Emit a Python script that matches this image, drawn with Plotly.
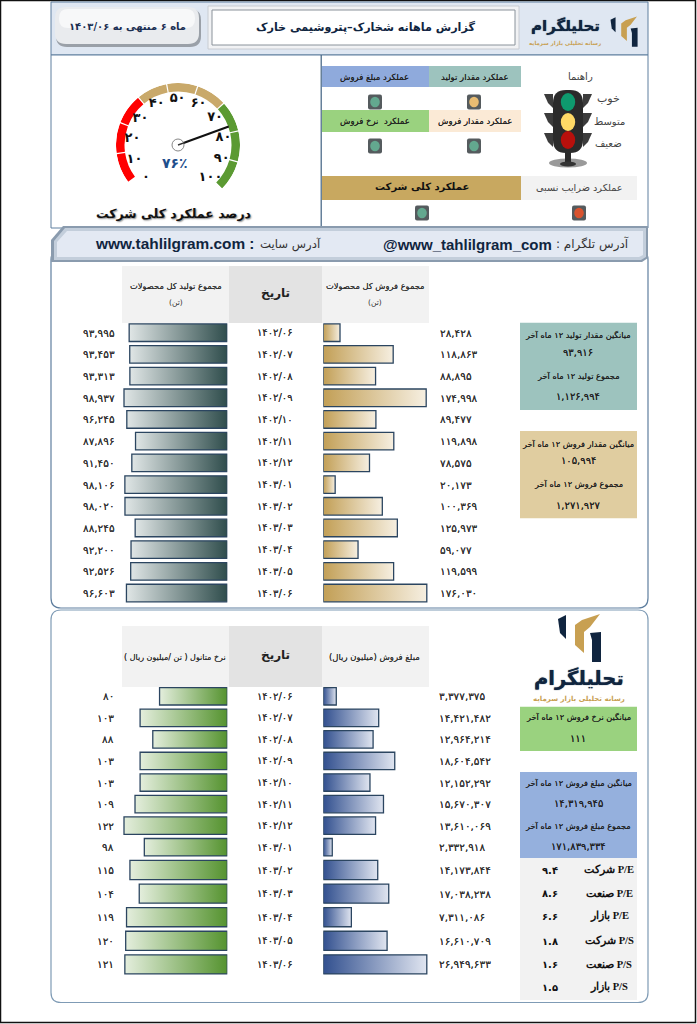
import plotly.graph_objects as go

# ---------- data ----------
dates = ["1402/06","1402/07","1402/08","1402/09","1402/10","1402/11","1402/12",
         "1403/01","1403/02","1403/03","1403/04","1403/05","1403/06"]
production = [93995,93453,93313,98937,96245,87896,91450,98106,98020,88245,92200,92526,96603]
sales_qty = [28428,118863,88895,174998,89477,119898,78575,20173,100369,125973,59077,119599,176030]
sales_amount = [3377375,14421482,12964214,18604542,12152292,15670307,13610069,2332918,
                14173844,17038238,7311086,16610709,26949633]
rate = [80,103,88,103,103,109,122,98,115,104,119,120,121]
gauge_value = 76
gauge_ticks = [0,10,20,30,40,50,60,70,80,90,100]
ratios = [("شرکت P/E","9.4"),("صنعت P/E","8.6"),("بازار P/E","6.6"),
          ("شرکت P/S","1.8"),("صنعت P/S","1.6"),("بازار P/S","1.5")]

W, H = 697, 1024
FONT = "DejaVu Sans"
NAVY = "#10253f"
GOLD = "#c8a052"
SEMI = "0 0 0.5px rgba(0,0,0,0.75)"

def fa(v):
    s = f"{v:,}" if not isinstance(v, str) else v
    return s.translate(str.maketrans("0123456789", "۰۱۲۳۴۵۶۷۸۹"))

def X(p): return p / W
def Y(p): return 1 - p / H

shapes, annos = [], []

def rect(x0, y0, x1, y1, fill, line=None, lw=1):
    shapes.append(dict(type="rect", xref="paper", yref="paper", x0=X(x0), x1=X(x1), y0=Y(y0), y1=Y(y1),
                       fillcolor=fill, line=dict(color=line or "rgba(0,0,0,0)", width=lw if line else 0), layer="below"))

def poly(pts, fill, line=None, lw=1):
    d = "M " + " L ".join(f"{X(a):.5f},{Y(b):.5f}" for a, b in pts) + " Z"
    shapes.append(dict(type="path", xref="paper", yref="paper", path=d, fillcolor=fill,
                       line=dict(color=line or "rgba(0,0,0,0)", width=lw if line else 0), layer="below"))

def ell(cx, cy, rx, ry, fill, line=None, lw=1):
    shapes.append(dict(type="circle", xref="paper", yref="paper", x0=X(cx-rx), x1=X(cx+rx), y0=Y(cy+ry), y1=Y(cy-ry),
                       fillcolor=fill, line=dict(color=line or "rgba(0,0,0,0)", width=lw if line else 0), layer="below"))

def rrect(x0, y0, x1, y1, r, fill, line=None, lw=1):
    def P(a, b): return f"{X(a):.5f},{Y(b):.5f}"
    d = (f"M {P(x0+r,y0)} L {P(x1-r,y0)} Q {P(x1,y0)} {P(x1,y0+r)} L {P(x1,y1-r)} Q {P(x1,y1)} {P(x1-r,y1)} "
         f"L {P(x0+r,y1)} Q {P(x0,y1)} {P(x0,y1-r)} L {P(x0,y0+r)} Q {P(x0,y0)} {P(x0+r,y0)} Z")
    shapes.append(dict(type="path", xref="paper", yref="paper", path=d, fillcolor=fill,
                       line=dict(color=line or "rgba(0,0,0,0)", width=lw if line else 0), layer="below"))

def txt(x, y, s, size=9, color="#222", bold=False, anchor="center", font=FONT, yref=None, shadow=None):
    f = dict(family=font, size=size, color=color, weight=700 if bold else 400)
    if shadow:
        f["shadow"] = shadow
    annos.append(dict(x=X(x), y=(y if yref else Y(y)), xref="paper", yref=yref or "paper", text=s,
                      showarrow=False, xanchor=anchor, yanchor="middle", align="center", font=f))

def logo(ox, oy, s):
    def m(pts): return [(ox + a*s, oy + b*s) for a, b in pts]
    poly(m([(0,5),(8,1),(8,25),(2,19)]), NAVY)
    poly(m([(42,0),(24,6),(17,11),(17,31),(26,39),(26,18),(32,13)]), GOLD)
    poly(m([(32,19),(43,18),(43,48),(34,48),(34,26)]), NAVY)

def light(cx, cy, inner):
    rrect(cx-7, cy-7.5, cx+7, cy+7.5, 2, "#555b5e")
    ell(cx, cy, 4.8, 5.2, inner)

# ---------- page frame and panels ----------
rect(0.5, 0.5, 695.5, 1022.5, "white", "#111", 1.5)
rect(51, 2, 648, 55, "#dfe7f2", "#5f7f9f", 1)
rect(51, 55, 648, 228, "white", "#5f7f9f", 1)
rect(320.6, 55, 321.8, 227, "#3f6080")
rrect(56, 9, 201, 47, 11, "#9aa0a8")
rrect(55, 7, 199, 44, 11, "#e9ebee")
rrect(59, 9, 195, 28, 9, "#f7f8f9")
rect(208, 6, 519, 49, "#f1f2f4", "#c8ccd2", 1)
rect(212, 10, 515, 45, "white", "#8a929a", 1)
logo(610.5, 16.5, 0.63)

# panels, then the address band over the first one
rrect(51, 250, 648, 608, 10, "white", "#5f7f9f", 1.2)
rrect(51, 610, 648, 1002.5, 10, "white", "#7f9bb5", 1.2)
poly([(51,240),(63,226),(648,226),(648,258),(642,262),(51,262)], "#8a9bae")
poly([(54,241),(65,228),(646,228),(646,257),(641,260),(54,260)], "#c3cedb")
poly([(57,242),(67,231),(643,231),(643,255),(639,257),(57,257)], "#e3e9f3")

# headers of the two tables
rect(122, 266, 229, 323, "#f2f2f2")
rect(229, 266, 322, 323, "#e3e3e3")
rect(322, 266, 429, 323, "#f2f2f2")
rect(122, 626, 229, 687, "#f2f2f2")
rect(229, 626, 322, 687, "#e3e3e3")
rect(322, 626, 429, 687, "#f2f2f2")

# side boxes
rect(520, 322.7, 637, 410, "#9dc3be")
rect(520, 431, 637, 518.3, "#e0cda0")
rect(520, 706.7, 637, 751, "#9ad27f")
rect(520, 772, 637, 858, "#95b0dd")
rect(520, 858, 637, 1000, "#f2f2f2")
logo(558, 614, 1.0)

# scoreboard
rect(322, 66, 429, 87, "#8faadc")
rect(429, 66, 521, 87, "#9dc3be")
rect(322, 110, 429, 132, "#9ad27f")
rect(429, 110, 521, 132, "#fbead6")
rect(322, 176, 521, 200, "#c8a860")
rect(521, 176, 637, 200, "#f2f2f2")
light(375, 102, "#63a88f")
light(474, 102, "#e8bc72")
light(375, 146, "#63a88f")
light(474, 146, "#63a88f")
light(422, 213, "#63a88f")
light(579, 213, "#d9532f")

# traffic light
for vy in (94, 113, 133):
    poly([(544,vy),(553,vy),(553,vy+14),(548,vy+9)], "#3c3c3c")
    poly([(592,vy),(583,vy),(583,vy+14),(588,vy+9)], "#3c3c3c")
ell(568, 163, 19, 4.5, "#9a9a9a")
rect(565, 150, 571, 165, "#2a2a2a")
ell(568, 164, 8, 2.5, "#333")
rrect(553, 90, 583, 153, 13, "#2b2b2b")
ell(568, 102, 7.2, 9, "#0e9a6e")
ell(568, 122, 7.2, 9, "#ffd966")
ell(568, 140, 7.2, 9, "#b8100c")

# ---------- gauge ----------
G0, GSPAN = 226.0, 271.0
ARC_START = 3.3
def ang(v): return G0 - GSPAN * v / 100
seg_colors = ["#ff0000"]*3 + ["#c9a96a"]*3 + ["#5b9a32"]*3
seg_step = (100 - ARC_START) / 9
seg_mid = [ARC_START + (i + 0.5) * seg_step for i in range(9)]

traces = []
traces.append(go.Barpolar(r=[8.5]*9, base=[53.5]*9, theta=[ang(v) for v in seg_mid],
                          width=[GSPAN*seg_step/100 - 1.2]*9, marker=dict(color=seg_colors, line=dict(width=0)),
                          hoverinfo="skip", showlegend=False, subplot="polar"))
traces.append(go.Scatterpolar(r=[46]*len(gauge_ticks), theta=[ang(v) for v in gauge_ticks],
                              mode="text", text=[fa(str(v)) for v in gauge_ticks],
                              textfont=dict(family=FONT, size=13, color="#111", weight=700),
                              hoverinfo="skip", showlegend=False, subplot="polar", cliponaxis=False))
traces.append(go.Scatterpolar(r=[0, 54], theta=[ang(gauge_value)]*2, mode="lines",
                              line=dict(color="#111", width=2.2), hoverinfo="skip", showlegend=False, subplot="polar"))
traces.append(go.Scatterpolar(r=[0], theta=[0], mode="markers",
                              marker=dict(size=12, color="white", line=dict(color="#888", width=1)),
                              hoverinfo="skip", showlegend=False, subplot="polar"))
traces.append(go.Scatterpolar(r=[0, 7], theta=[ang(gauge_value)]*2, mode="lines",
                              line=dict(color="#333", width=1.5), hoverinfo="skip", showlegend=False, subplot="polar"))

# ---------- bars ----------
BORDER = "#2b4560"
def bars(vals, labels, xa, ya, c0, c1):
    traces.append(go.Bar(x=vals, y=labels, xaxis=xa, yaxis=ya, orientation="h", cliponaxis=False,
                         marker=dict(color=c1, line=dict(color=BORDER, width=1.3)), meta=[c0, c1],
                         hoverinfo="skip", showlegend=False))

bars(sales_qty, dates, "x", "y", "#c29f56", "#f6efe1")
bars(production, dates, "x2", "y", "#e0e6e6", "#2f4d4c")
bars(sales_amount[:8], dates[:8], "x3", "y2", "#32508f", "#e0e5f0")
bars(rate[:8], dates[:8], "x4", "y2", "#e4eedd", "#55932f")
bars(sales_amount[8:], dates[8:], "x3", "y3", "#32508f", "#e0e5f0")
bars(rate[8:], dates[8:], "x4", "y3", "#e4eedd", "#55932f")

# value and date columns
def columns(lv, rv, labels, ya, lx, rx):
    for d, a, b in zip(labels, lv, rv):
        txt(lx, d, fa(a), 10.5, "#333", False, "right", yref=ya, shadow=SEMI)
        txt(rx, d, fa(b), 10.5, "#333", False, "left", yref=ya, shadow=SEMI)
        txt(275, d, fa(d), 10, "#333", False, yref=ya, shadow=SEMI)

columns(production, sales_qty, dates, "y", 117, 438)
columns(rate[:8], sales_amount[:8], dates[:8], "y2", 116, 437)
columns(rate[8:], sales_amount[8:], dates[8:], "y3", 116, 437)

# ---------- texts ----------
BOLDER = "0 0 1px rgba(16,37,63,0.9)"
txt(127, 27, "ماه ۶ منتهی به ۱۴۰۳/۰۶", 10, "#1b2f52", True)
txt(365, 27, "گزارش ماهانه شخارک–پتروشیمی خارک", 11.2, NAVY, True)
txt(565, 26, "تحلیلگرام", 15, NAVY, True, shadow=BOLDER)
txt(565, 43, "رسانه تحلیلی بازار سرمایه", 5.5, GOLD, True)
txt(175, 163, "۷۶٪", 14, "#1f4e8c", True)
txt(173, 213, "درصد عملکرد کلی شرکت", 12.5, "#111", True, shadow="1px 1px 1.5px rgba(0,0,0,0.45)")

txt(375, 77, "عملکرد مبلغ فروش", 8.5, "#222", shadow=SEMI)
txt(475, 77, "عملکرد مقدار تولید", 8.5, "#222", shadow=SEMI)
txt(375, 121, "عملکرد  نرخ فروش", 8.5, "#222", shadow=SEMI)
txt(475, 121, "عملکرد مقدار فروش", 8.5, "#222", shadow=SEMI)
txt(422, 187, "عملکرد کلی شرکت", 10, "#111", True)
txt(579, 187, "عملکرد ضرایب نسبی", 9.7, "#444")
txt(580, 76, "راهنما", 10, "#444")
txt(608, 98, "خوب", 11, "#444")
txt(609, 121, "متوسط", 10, "#444")
txt(608, 143, "ضعیف", 10, "#444")

txt(592, 244, "آدرس تلگرام :\u200f", 12, "#333")
txt(467, 244, "@www_tahlilgram_com", 15, NAVY, True, font="Liberation Sans")
txt(175, 243, "www.tahlilgram.com :", 15.4, NAVY, True, font="Liberation Sans")
txt(290, 244, "آدرس سایت", 11.7, "#333")

txt(176, 286, "مجموع تولید کل محصولات", 8.3, "#333", shadow=SEMI)
txt(176, 302, "(تن)", 7.5, "#333")
txt(275, 293, "تاریخ", 12, "#222", True)
txt(375, 286, "مجموع فروش کل محصولات", 8.3, "#333", shadow=SEMI)
txt(375, 302, "(تن)", 7.5, "#333")
txt(175, 657, "نرخ متانول ( تن /میلیون ریال )\u200f", 8, "#333", shadow=SEMI)
txt(275, 655, "تاریخ", 12, "#222", True)
txt(375, 657, "مبلغ فروش (میلیون ریال)\u200f", 8.5, "#333", shadow=SEMI)

S = dict(shadow=SEMI)
txt(578, 335, "میانگین مقدار تولید ۱۲ ماه آخر", 8.2, "#222", **S)
txt(578, 352, fa("93,916"), 10, "#222", **S)
txt(578, 376, "مجموع تولید ۱۲ ماه آخر", 8.2, "#222", **S)
txt(578, 396, fa("1,126,994"), 10, "#222", **S)
txt(578, 444, "میانگین مقدار فروش ۱۲ ماه آخر", 8.2, "#222", **S)
txt(578, 460, fa("105,994"), 10, "#222", **S)
txt(578, 484, "مجموع فروش ۱۲ ماه آخر", 8.2, "#222", **S)
txt(578, 505, fa("1,271,927"), 10, "#222", **S)
txt(578, 717, "میانگین نرخ فروش ۱۲ ماه آخر", 8.2, "#222", **S)
txt(578, 738, fa("111"), 10, "#222", **S)
txt(578, 783, "میانگین مبلغ فروش ۱۲ ماه آخر", 8.2, "#222", **S)
txt(578, 803, fa("14,319,945"), 10, "#222", **S)
txt(578, 826, "مجموع مبلغ فروش ۱۲ ماه آخر", 8.2, "#222", **S)
txt(578, 846, fa("171,839,334"), 10, "#222", **S)

txt(579, 678, "تحلیلگرام", 19.5, NAVY, True, shadow=BOLDER)
txt(579, 699, "رسانه تحلیلی بازار سرمایه", 7, GOLD, True)

for (lab, val), py in zip(ratios, [870, 893, 916, 941, 964, 987]):
    txt(609, py, lab, 10.5, "#111", True, font="Liberation Serif")
    txt(550, py, fa(val), 10, "#111", True)

# ---------- layout ----------
def xax(p0, p1, rng):
    return dict(domain=[X(p0), X(p1)], range=rng, visible=False, fixedrange=True)
def yax(top, bottom, n, xa):
    return dict(domain=[Y(bottom), Y(top)], range=[n-0.5, -0.5], type="category", visible=False,
                anchor=xa, fixedrange=True)

SCALE_R, SCALE_L = 107/103.5, 107/103.3
layout = dict(
    width=W, height=H, margin=dict(l=0, r=0, t=0, b=0, pad=0), autosize=False,
    paper_bgcolor="white", plot_bgcolor="rgba(0,0,0,0)", showlegend=False, bargap=0.19,
    font=dict(family=FONT),
    shapes=shapes, annotations=annos,
    xaxis=xax(323.3, 430.3, [0, max(sales_qty)*SCALE_R]),
    xaxis2=xax(120.3, 227.3, [max(production)*SCALE_L, 0]),
    xaxis3=xax(323.3, 430.3, [0, max(sales_amount)*SCALE_R]),
    xaxis4=xax(120.3, 227.3, [max(rate)*SCALE_L, 0]),
    yaxis=yax(321.85, 603.9, 13, "x"),
    yaxis2=yax(685.5, 858, 8, "x3"),
    yaxis3=yax(858.2, 976.2, 5, "x3"),
    polar=dict(domain=dict(x=[X(116), X(240)], y=[Y(207), Y(83)]), bgcolor="rgba(0,0,0,0)",
               radialaxis=dict(range=[0, 62], visible=False),
               angularaxis=dict(visible=False, rotation=0, direction="counterclockwise", thetaunit="degrees"),
               bargap=0),
)

fig = go.Figure(data=traces, layout=layout)

post = """
document.body.style.margin='0';
document.body.style.overflow='hidden';
var gd=document.querySelector('.plotly-graph-div');
var svg=gd.querySelector('svg.main-svg');
var NS='http://www.w3.org/2000/svg';
var defs=svg.querySelector('defs')||svg.appendChild(document.createElementNS(NS,'defs'));
var n=0;
gd.querySelectorAll('.cartesianlayer .barlayer .trace').forEach(function(t){
  var m=t.__data__[0].trace.meta; if(!m) return;
  var id='bargrad'+(n++);
  var g=document.createElementNS(NS,'linearGradient');
  g.setAttribute('id',id);
  [[0,m[0]],[1,m[1]]].forEach(function(s){
    var st=document.createElementNS(NS,'stop');
    st.setAttribute('offset',s[0]); st.setAttribute('stop-color',s[1]); g.appendChild(st);
  });
  defs.appendChild(g);
  t.querySelectorAll('path').forEach(function(p){ p.style.fill='url(#'+id+')'; p.style.fillOpacity=1; });
});
"""
fig.write_html("out.html", post_script=post, config=dict(displayModeBar=False, responsive=False))
